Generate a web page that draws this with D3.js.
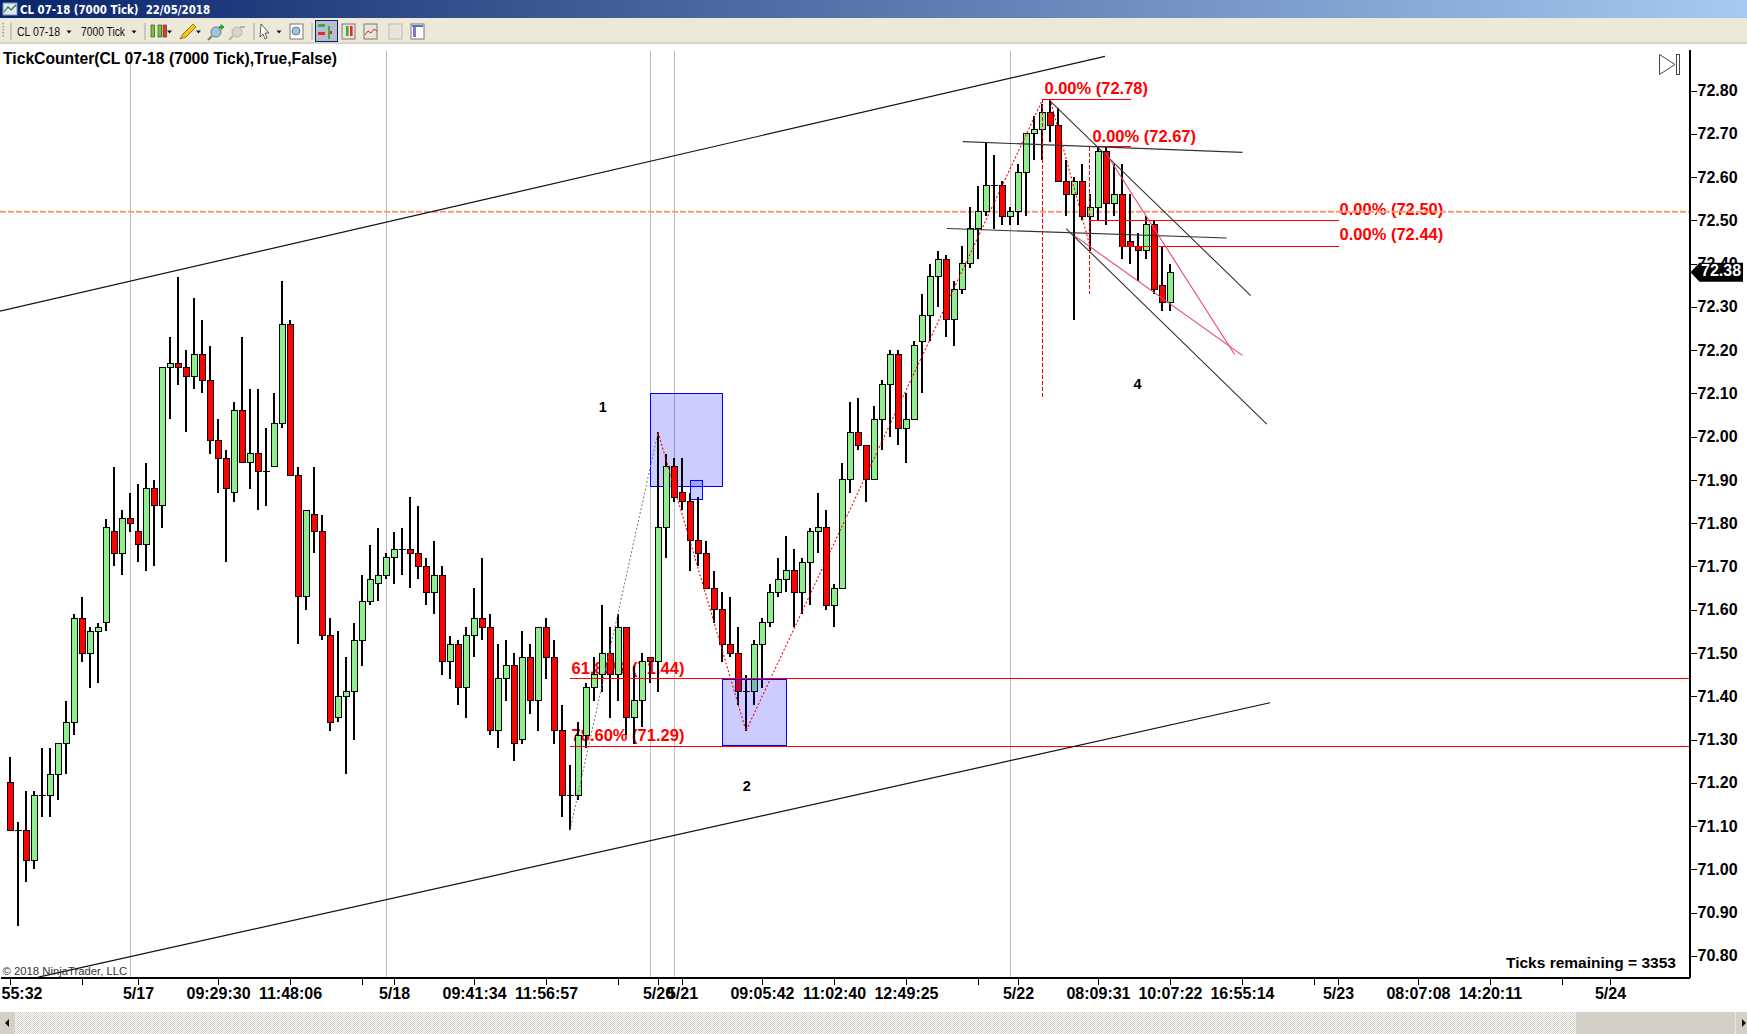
<!DOCTYPE html>
<html><head><meta charset="utf-8"><title>CL 07-18 (7000 Tick)</title>
<script src="https://cdnjs.cloudflare.com/ajax/libs/d3/7.8.5/d3.min.js"></script>
<style>html,body{margin:0;padding:0;background:#fff;overflow:hidden}svg{display:block}text{font-family:"Liberation Sans",Arial,sans-serif}</style>
</head><body><div id="chart"></div>
<script>
// ---- price bars (bar index 0..145) ----
const opens=[71.20,71.09,71.09,71.02,71.17,71.17,71.22,71.29,71.34,71.58,
71.50,71.55,71.57,71.78,71.73,71.81,71.78,71.75,71.88,71.84,
72.16,72.17,72.16,72.14,72.19,72.13,71.99,71.95,71.87,72.06,
71.94,71.96,71.92,71.93,72.03,72.26,71.91,71.63,71.82,71.78,
71.54,71.35,71.40,71.41,71.53,71.62,71.66,71.68,71.72,71.74,
71.74,71.73,71.70,71.64,71.68,71.48,71.52,71.42,71.54,71.58,
71.56,71.32,71.44,71.47,71.30,71.49,71.39,71.56,71.49,71.32,
71.17,71.17,71.31,71.42,71.45,71.50,71.45,71.56,71.35,71.39,
71.49,71.48,71.79,71.93,71.87,71.85,71.76,71.73,71.65,71.60,
71.52,71.50,71.41,71.41,71.52,71.57,71.64,71.67,71.69,71.64,
71.71,71.78,71.79,71.61,71.65,71.90,72.01,71.98,71.90,72.04,
72.12,72.19,72.02,72.04,72.22,72.28,72.37,72.41,72.27,72.34,
72.40,72.48,72.52,72.58,72.58,72.51,72.52,72.61,72.70,72.71,
72.75,72.72,72.59,72.56,72.59,72.51,72.53,72.66,72.54,72.56,
72.45,72.44,72.43,72.49,72.35,72.31];
const highs=[71.26,71.11,71.18,71.18,71.28,71.28,71.29,71.39,71.59,71.63,
71.56,71.57,71.81,71.93,71.83,71.87,71.89,71.94,71.90,72.16,
72.23,72.37,72.20,72.32,72.27,72.21,72.04,71.97,72.08,72.23,
72.11,72.11,72.02,72.10,72.36,72.27,71.93,71.83,71.93,71.82,
71.58,71.55,71.49,71.57,71.68,71.75,71.79,71.73,71.78,71.79,
71.86,71.84,71.72,71.76,71.70,71.54,71.53,71.56,71.65,71.72,
71.59,71.52,71.53,71.50,71.55,71.52,71.56,71.58,71.53,71.38,
71.24,71.34,71.43,71.49,71.61,71.56,71.59,71.56,71.47,71.50,
71.49,72.01,71.96,71.95,71.95,71.87,71.86,71.76,71.69,71.64,
71.63,71.56,71.45,71.53,71.58,71.66,71.72,71.77,71.74,71.72,
71.79,71.87,71.83,71.66,71.94,72.08,72.09,71.98,72.07,72.13,
72.20,72.20,72.10,72.22,72.33,72.40,72.43,72.42,72.36,72.44,
72.53,72.58,72.68,72.65,72.59,72.53,72.63,72.70,72.74,72.77,
72.78,72.76,72.64,72.60,72.63,72.56,72.67,72.67,72.63,72.63,
72.56,72.47,72.51,72.50,72.44,72.40];
const lows=[71.09,70.87,70.97,71.00,71.12,71.12,71.16,71.22,71.31,71.48,
71.42,71.43,71.55,71.70,71.68,71.78,71.71,71.69,71.70,71.79,
72.04,72.12,72.01,72.11,72.10,71.96,71.87,71.71,71.85,71.94,
71.88,71.83,71.84,71.93,72.02,71.91,71.52,71.60,71.73,71.53,
71.32,71.34,71.22,71.30,71.47,71.61,71.62,71.67,71.66,71.68,
71.65,71.67,71.61,71.59,71.45,71.44,71.38,71.35,71.49,71.53,
71.31,71.28,71.39,71.25,71.29,71.36,71.32,71.44,71.29,71.12,
71.09,71.16,71.28,71.39,71.41,71.35,71.39,71.31,71.29,71.33,
71.43,71.41,71.72,71.85,71.83,71.69,71.70,71.65,71.57,71.48,
71.49,71.38,71.32,71.38,71.42,71.56,71.63,71.64,71.56,71.59,
71.61,71.73,71.60,71.56,71.65,71.87,71.97,71.85,71.90,71.97,
72.00,71.98,71.94,72.04,72.10,72.22,72.30,72.23,72.21,72.33,
72.39,72.41,72.51,72.48,72.49,72.49,72.49,72.51,72.64,72.64,
72.68,72.59,72.51,72.27,72.50,72.43,72.50,72.49,72.51,72.41,
72.40,72.36,72.41,72.33,72.29,72.29];
const closes=[71.09,71.09,71.02,71.17,71.17,71.22,71.29,71.34,71.58,71.50,
71.55,71.56,71.79,71.73,71.81,71.80,71.75,71.88,71.84,72.16,
72.17,72.16,72.14,72.19,72.13,71.99,71.95,71.88,72.06,71.94,
71.96,71.92,71.92,72.03,72.26,71.91,71.63,71.83,71.78,71.54,
71.34,71.40,71.41,71.53,71.62,71.67,71.68,71.72,71.74,71.74,
71.73,71.70,71.64,71.68,71.48,71.52,71.42,71.54,71.58,71.56,
71.32,71.44,71.47,71.29,71.49,71.39,71.56,71.49,71.32,71.17,
71.17,71.31,71.42,71.45,71.50,71.45,71.56,71.35,71.39,71.48,
71.48,71.79,71.93,71.86,71.85,71.76,71.73,71.65,71.60,71.52,
71.50,71.41,71.41,71.52,71.57,71.64,71.67,71.69,71.64,71.71,
71.78,71.79,71.61,71.65,71.90,72.01,71.98,71.90,72.04,72.12,
72.19,72.02,72.04,72.21,72.28,72.37,72.41,72.27,72.34,72.40,
72.48,72.52,72.58,72.58,72.51,72.52,72.61,72.70,72.71,72.75,
72.72,72.59,72.56,72.59,72.51,72.53,72.66,72.54,72.56,72.44,
72.44,72.43,72.49,72.34,72.31,72.38];

// ---- axes ----
const priceTicks=[70.8,70.9,71.0,71.1,71.2,71.3,71.4,71.5,71.6,71.7,71.8,71.9,72.0,72.1,72.2,72.3,72.4,72.5,72.6,72.7,72.8];
const timeTickBars=[0,9,16,26,35,44,48,58,67,76,81,84,94,103,112,121,126,136,145,154,163,166,176,185,194,200];
const timeTickLabels=["55:32","","5/17","09:29:30","11:48:06","","5/18","09:41:34","11:56:57","","5/20","5/21","09:05:42","11:02:40","12:49:25","","5/22","08:09:31","10:07:22","16:55:14","","5/23","08:07:08","14:20:11","","5/24"];
const sessionBars=[15,47,80,83,125];

// ---- drawn objects: [barIndex, price] ----
const trendBlack=[[[-1.25,72.29],[136.875,72.879]],[[3.54,70.751],[157.5,71.385]]];
const trendGrey=[[[119.09,72.682],[154.06,72.657]],[[117.1,72.481],[152.09,72.459]],[[129.9,72.778],[155.09,72.326]],[[132,72.481],[157.1,72.029]]];
const trendPink=[[[133.1,72.464],[154.05,72.188]],[[137,72.655],[153.08,72.19]]];
const zigzagGrey=[[70,71.09],[81,72.01]];
const zigzagRed=[[[81,72.01],[92,71.32],[129.1,72.78]],[[130,72.78],[135,72.44]]];
const dropLines=[[129.1,72.78,72.09],[135,72.67,72.33]];
const fibBars=[70,70,129.1,135,135,138.75];
const fibEnds=[209.94,209.94,140.1,140.1,166.1,166.1];
const fibPrices=[71.44,71.285,72.78,72.67,72.50,72.44];
const fibTexts=["61.80% (71.44)","78.60% (71.29)","0.00% (72.78)","0.00% (72.67)","0.00% (72.50)","0.00% (72.44)"];
const fibTextBars=[70.2,70.2,129.3,135.3,166.2,166.2];
const fibTextPrices=[71.462,71.306,72.802,72.691,72.523,72.464];
const zoneBack=[[80,89,72.10,71.885],[85,86.46,71.90,71.855]];
const zoneFront=[[89,97,71.44,71.288]];
const waveNames=["1","2","4"];
const waveBars=[74.1,92.1,140.95];
const wavePrices=[72.066,71.19,72.12];
const lastPrice=72.38, alertPrice=72.52;

const W=1747,H=1034,plotR=1689.5,plotT=49,plotB=977.5;
const x=d3.scaleLinear().domain([-1.25,209.94]).range([0,plotR]);
const y=d3.scaleLinear().domain([70.75,72.896]).range([plotB,plotT]);
const svg=d3.select("#chart").append("svg").attr("width",W).attr("height",H).attr("viewBox",`0 0 ${W} ${H}`);
const defs=svg.append("defs");
const grad=defs.append("linearGradient").attr("id","tb");
grad.append("stop").attr("offset","0").attr("stop-color","#0A246A");
grad.append("stop").attr("offset","1").attr("stop-color","#A6CAF0");
const pat=defs.append("pattern").attr("id","hatch").attr("width",2).attr("height",2).attr("patternUnits","userSpaceOnUse");
pat.append("rect").attr("width",2).attr("height",2).attr("fill","#fff");
pat.append("rect").attr("width",1).attr("height",1).attr("fill","#D4D0C8");
pat.append("rect").attr("x",1).attr("y",1).attr("width",1).attr("height",1).attr("fill","#D4D0C8");
defs.append("clipPath").attr("id","plot").append("rect").attr("x",0).attr("y",plotT).attr("width",plotR).attr("height",plotB-plotT);

svg.append("rect").attr("width",W).attr("height",H).attr("fill","#fff");

// window chrome
const chrome=svg.append("g");
chrome.append("rect").attr("width",W).attr("height",18).attr("fill","url(#tb)");
chrome.append("rect").attr("y",18).attr("width",W).attr("height",26).attr("fill","#ECE9D8");
chrome.append("rect").attr("y",42).attr("width",W).attr("height",2).attr("fill","#D8D5C8");
chrome.append("rect").attr("x",3).attr("y",3).attr("width",14).attr("height",12).attr("fill","#DDE6F5").attr("stroke","#7a8fb0");
chrome.append("path").attr("d","M4 12L8 7L11 10L16 5").attr("fill","none").attr("stroke","#2a7a3a").attr("stroke-width",1.2);
chrome.append("text").attr("x",20).attr("y",13.5).attr("fill","#fff").attr("font-size",12).attr("font-weight",700).style("white-space","pre").text("CL 07-18 (7000 Tick)  22/05/2018").attr("textLength",190).attr("lengthAdjust","spacingAndGlyphs").style("font-family","'DejaVu Sans'");
[[17,"CL 07-18",43],[81,"7000 Tick",44]].forEach(d=>chrome.append("text").attr("x",d[0]).attr("y",35.5).attr("font-size",12.5).attr("fill","#111").text(d[1]).attr("textLength",d[2]).attr("lengthAdjust","spacingAndGlyphs"));
[69,134,169.5,198.5,279].forEach(t=>chrome.append("path").attr("d",`M${t-2.5} 30.5h5l-2.5 3z`).attr("fill","#111"));
[3].forEach(t=>{for(let k=0;k<5;k++)chrome.append("rect").attr("x",t-0.5).attr("y",23+k*3).attr("width",1.5).attr("height",1.5).attr("fill","#999");});
[11,145,254,312].forEach(t=>chrome.append("rect").attr("x",t-0.5).attr("y",23).attr("width",1).attr("height",17).attr("fill","#A8A69A"));
[[151,"#6ACB2A"],[158,"#6ACB2A"],[163,"#E83A2A"]].forEach(d=>{chrome.append("rect").attr("x",d[0]).attr("y",25).attr("width",3.6).attr("height",12).attr("fill",d[1]).attr("stroke","#333").attr("stroke-width",.6);});
chrome.append("path").attr("d","M180 39l3-5 10-10 3 3-10 10z").attr("fill","#F5C518").attr("stroke","#7a5c10").attr("stroke-width",.8);
chrome.append("circle").attr("cx",216).attr("cy",32).attr("r",5).attr("fill","#9CC4E8").attr("stroke","#777");
chrome.append("path").attr("d","M212 36l-4 4").attr("stroke","#777").attr("stroke-width",2);
chrome.append("path").attr("d","M219 27h5M221.5 24.5v5").attr("stroke","#1FA02F").attr("stroke-width",2);
chrome.append("circle").attr("cx",237).attr("cy",32).attr("r",5).attr("fill","#D6D4CC").attr("stroke","#B5B3AA");
chrome.append("path").attr("d","M233 36l-4 4").attr("stroke","#B5B3AA").attr("stroke-width",2);
chrome.append("path").attr("d","M240 27h5").attr("stroke","#B5B3AA").attr("stroke-width",2);
chrome.append("path").attr("d","M261 24l8 9h-4l2 5-2 1-2-5-3 3z").attr("fill","#fff").attr("stroke","#333").attr("stroke-width",.8);
chrome.append("rect").attr("x",290).attr("y",24).attr("width",13).attr("height",15).attr("fill","#fff").attr("stroke","#777");
chrome.append("circle").attr("cx",296).attr("cy",31).attr("r",4).attr("fill","#9CC4E8").attr("stroke","#777");
chrome.append("rect").attr("x",315.5).attr("y",20.5).attr("width",22).attr("height",21).attr("fill","#B6BDD2").attr("stroke","#0A246A");
[[318,24,7,"#3DB02F"],[318,32,7,"#E02A2A"],[328,31,4,"#E02A2A"]].forEach(d=>chrome.append("rect").attr("x",d[0]).attr("y",d[1]).attr("width",d[2]).attr("height",3).attr("fill",d[3]));
chrome.append("rect").attr("x",328).attr("y",26).attr("width",2).attr("height",13).attr("fill","#3DB02F");
[342,364,389,411].forEach((t,k)=>chrome.append("rect").attr("x",t).attr("y",24).attr("width",13).attr("height",15).attr("fill",k==3?"#fff":"#E8E6DC").attr("stroke",k==2?"#BDBBB0":"#777"));
[[346,"#3DB02F"],[350,"#E02A2A"]].forEach(d=>chrome.append("rect").attr("x",d[0]).attr("y",26).attr("width",2.6).attr("height",10).attr("fill",d[1]));
chrome.append("path").attr("d","M365 35l3-4 3 2 3-4 3 2").attr("fill","none").attr("stroke","#E02A2A");
chrome.append("rect").attr("x",413).attr("y",26).attr("width",3).attr("height",11).attr("fill","#8A6CD8");
chrome.append("rect").attr("x",412).attr("y",25).attr("width",11).attr("height",2).attr("fill","#4A7CC0");

// scroll bar
const sb=svg.append("g").attr("shape-rendering","crispEdges");
sb.append("rect").attr("y",1012).attr("width",W).attr("height",22).attr("fill","url(#hatch)");
sb.append("rect").attr("x",0).attr("y",1012).attr("width",15).attr("height",22).attr("fill","#D4D0C8");
sb.append("rect").attr("x",1576).attr("y",1012).attr("width",159).attr("height",22).attr("fill","#D4D0C8");
sb.append("rect").attr("x",1736).attr("y",1012).attr("width",11).attr("height",22).attr("fill","#D4D0C8");
svg.append("path").attr("d","M5 1023l4-4v8z").attr("fill","#111");
svg.append("path").attr("d","M1742 1019l4 4-4 4z").attr("fill","#111");

const plot=svg.append("g").attr("clip-path","url(#plot)");
const line=d3.line().x(d=>x(d[0])).y(d=>y(d[1]));

// session separators
plot.append("g").selectAll("line").data(sessionBars).join("line")
 .attr("x1",d=>x(d)+.5).attr("x2",d=>x(d)+.5).attr("y1",plotT+2).attr("y2",plotB)
 .attr("stroke","#BEBEBE").attr("stroke-width",1).attr("shape-rendering","crispEdges");

// zones behind the bars
const zoneRect=(g,data)=>g.selectAll("rect").data(data).join("rect")
 .attr("x",d=>x(d[0])+.5).attr("width",d=>x(d[1])-x(d[0])).attr("y",d=>y(d[2])+.5).attr("height",d=>y(d[3])-y(d[2]))
 .attr("fill","#0000FF").attr("fill-opacity",.2).attr("stroke","#0000FF").attr("stroke-width",1).attr("shape-rendering","crispEdges");
zoneRect(plot.append("g"),zoneBack);

// fibonacci labels sit behind the bars
plot.append("g").selectAll("text").data(fibTexts).join("text")
 .attr("x",(d,i)=>x(fibTextBars[i])).attr("y",(d,i)=>y(fibTextPrices[i])).attr("dominant-baseline","middle")
 .attr("fill","#FF0000").attr("font-size",16.5).attr("font-weight",700).text(d=>d);

// alert line
plot.append("line").attr("x1",0).attr("x2",plotR).attr("y1",y(alertPrice)).attr("y2",y(alertPrice))
 .attr("stroke","#FF9A73").attr("stroke-width",2).attr("stroke-dasharray","6 2");

// candles
const bars=d3.range(opens.length);
const candles=plot.append("g").attr("shape-rendering","crispEdges");
candles.selectAll("line.wick").data(bars).join("line").attr("class","wick")
 .attr("x1",i=>x(i)).attr("x2",i=>x(i)).attr("y1",i=>y(highs[i])).attr("y2",i=>y(lows[i]))
 .attr("stroke","#000").attr("stroke-width",1.6);
candles.selectAll("rect.body").data(bars.filter(i=>opens[i]!==closes[i])).join("rect").attr("class","body")
 .attr("x",i=>x(i)-2.5).attr("width",6)
 .attr("y",i=>y(Math.max(opens[i],closes[i]))).attr("height",i=>Math.max(1,y(Math.min(opens[i],closes[i]))-y(Math.max(opens[i],closes[i]))))
 .attr("fill",i=>closes[i]>opens[i]?"#90EE90":"#FF0000").attr("stroke","#000").attr("stroke-width",1);
candles.selectAll("line.doji").data(bars.filter(i=>opens[i]===closes[i])).join("line").attr("class","doji")
 .attr("x1",i=>x(i)-3).attr("x2",i=>x(i)+4).attr("y1",i=>y(opens[i])).attr("y2",i=>y(opens[i]))
 .attr("stroke","#000").attr("stroke-width",1);

// objects above the bars
zoneRect(plot.append("g"),zoneFront);
plot.append("g").selectAll("line").data(fibPrices).join("line")
 .attr("x1",(d,i)=>x(fibBars[i])).attr("x2",(d,i)=>x(fibEnds[i])).attr("y1",d=>y(d)).attr("y2",d=>y(d))
 .attr("stroke","#FF0000").attr("stroke-width",1).attr("shape-rendering","crispEdges");
const pathGroup=(data,color,width,dash)=>plot.append("g").selectAll("path").data(data).join("path")
 .attr("d",line).attr("fill","none").attr("stroke",color).attr("stroke-width",width).attr("stroke-dasharray",dash||null);
pathGroup(trendBlack,"#111",1.2);
pathGroup(trendGrey,"#333",1.1);
pathGroup(trendPink,"#E8456E",1.1);
pathGroup([zigzagGrey],"#777",1,"2 2");
pathGroup(zigzagRed,"#FF0000",1.1,"2 2");
plot.append("g").selectAll("line").data(dropLines).join("line")
 .attr("x1",d=>x(d[0])).attr("x2",d=>x(d[0])).attr("y1",d=>y(d[1])).attr("y2",d=>y(d[2]))
 .attr("stroke","#FF0000").attr("stroke-width",1).attr("stroke-dasharray","4 2").attr("shape-rendering","crispEdges");
plot.append("g").selectAll("text").data(waveNames).join("text")
 .attr("x",(d,i)=>x(waveBars[i])).attr("y",(d,i)=>y(wavePrices[i])).attr("text-anchor","middle").attr("dominant-baseline","middle")
 .attr("font-size",14.5).attr("font-weight",700).attr("fill","#000").text(d=>d);

// axes
const yAxis=svg.append("g").attr("transform",`translate(${plotR},0)`).call(d3.axisRight(y).tickValues(priceTicks).tickFormat(d3.format(".2f")).tickSize(7).tickPadding(1).tickSizeOuter(0));
yAxis.selectAll("text").attr("font-size",16).attr("font-weight",700).attr("fill","#000").style("font-family","'Liberation Sans'");
const labelOf=d=>timeTickLabels[timeTickBars.indexOf(d)];
const xAxis=svg.append("g").attr("transform",`translate(0,${plotB})`).call(d3.axisBottom(x).tickValues(timeTickBars).tickFormat(labelOf).tickSize(7).tickPadding(3).tickSizeOuter(0));
xAxis.selectAll("text").attr("font-size",16).attr("font-weight",700).attr("fill","#000").style("font-family","'Liberation Sans'");
xAxis.selectAll("text").filter(d=>d===0).attr("text-anchor","start").attr("x",1-x(0));
[yAxis,xAxis].forEach(a=>{a.attr("shape-rendering","crispEdges");a.select(".domain").attr("stroke","#000").attr("stroke-width",1.2);a.selectAll(".tick line").attr("stroke","#000");});

// last price tag
const tagY=y(lastPrice);
svg.append("path").attr("d",`M${plotR+1} ${tagY}l9 -9.5h43.5v19h-43.5z`).attr("fill","#000");
svg.append("text").attr("x",1701).attr("y",tagY).attr("dominant-baseline","middle").attr("fill","#fff").attr("font-size",16).attr("font-weight",700).text(lastPrice.toFixed(2));

// chart captions
svg.append("text").attr("x",3).attr("y",64).attr("font-size",15.7).attr("font-weight",700).attr("fill","#000").text("TickCounter(CL 07-18 (7000 Tick),True,False)");
svg.append("text").attr("x",2.5).attr("y",975).attr("font-size",11.3).attr("fill","#333").text("© 2018 NinjaTrader, LLC");
svg.append("text").attr("x",1506).attr("y",968).attr("font-size",15.5).attr("font-weight",700).attr("fill","#000").text("Ticks remaining = 3353");
svg.append("path").attr("d","M1659.5 54.5v20l15.5-10z").attr("fill","#fff").attr("stroke","#444");
svg.append("rect").attr("x",1676.5).attr("y",54.5).attr("width",3).attr("height",20).attr("fill","#fff").attr("stroke","#444");
</script></body></html>
